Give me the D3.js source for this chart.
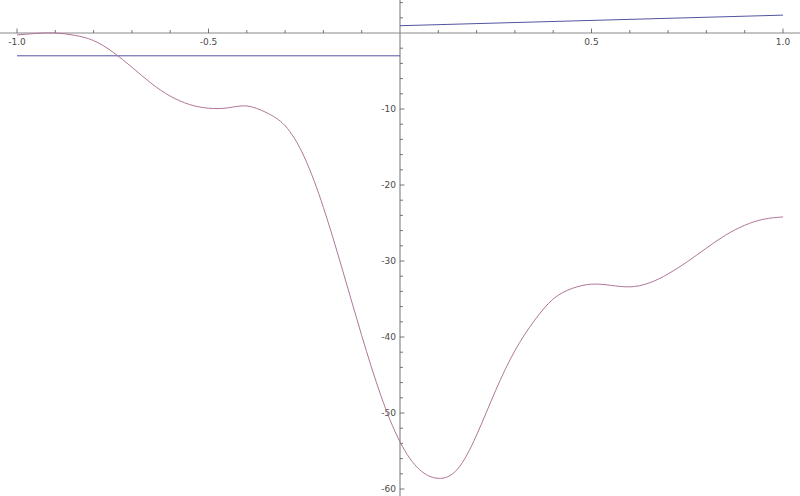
<!DOCTYPE html>
<html><head><meta charset="utf-8">
<script src="https://cdn.jsdelivr.net/npm/d3@7"></script>
<style>body{margin:0;background:#fff}svg{display:block}text{font-family:"DejaVu Sans",sans-serif;font-size:9px;fill:#4a4a4a}</style>
</head><body>
<script>
// pink curve samples (x, y)
const pinkX = [-1,-0.95,-0.9,-0.85,-0.8,-0.75,-0.7,-0.65,-0.6,-0.55,-0.5,-0.45,-0.4,-0.35,-0.3,-0.25,-0.2,-0.15,-0.1,-0.05,0,0.05,0.1,0.15,0.2,0.25,0.3,0.35,0.4,0.45,0.5,0.55,0.6,0.65,0.7,0.75,0.8,0.85,0.9,0.95,1];
const pinkY = [-0.25,-0.05,0.0,-0.3,-1.0,-2.5,-4.5,-6.6,-8.3,-9.4,-9.9,-9.85,-9.6,-10.45,-12.2,-16.3,-22.95,-31.2,-39.8,-47.7,-53.8,-57.4,-58.6,-57.4,-52.9,-47.0,-41.8,-37.9,-35.0,-33.6,-33.05,-33.2,-33.4,-32.9,-31.7,-30.1,-28.3,-26.6,-25.3,-24.5,-24.2];
// blue piecewise line segments
const blueLeftX = [-1, 0];
const blueLeftY = [-3.0, -3.0];
const blueRightX = [0, 1];
const blueRightY = [0.96, 2.35];
const xMajor = [-1, -0.5, 0.5, 1];
const xMajorLabels = ["-1.0", "-0.5", "0.5", "1.0"];
const yMajor = [-10, -20, -30, -40, -50, -60];
const yMajorLabels = ["-10", "-20", "-30", "-40", "-50", "-60"];

const W = 800, H = 496;
const x = d3.scaleLinear().domain([-1, 1]).range([17, 783]);
const y = d3.scaleLinear().domain([0, -60]).range([33, 489]);

const svg = d3.select("body").append("svg").attr("width", W).attr("height", H);

// axes
const axisColor = "#8a8a8a";
svg.append("line").attr("x1", 0).attr("x2", 800).attr("y1", y(0)).attr("y2", y(0))
  .attr("stroke", axisColor).attr("stroke-width", 1.2);
svg.append("line").attr("x1", x(0)).attr("x2", x(0)).attr("y1", 0).attr("y2", H)
  .attr("stroke", axisColor).attr("stroke-width", 1.2);

// x ticks (minor every 0.1, upward)
const xMinor = d3.range(-10, 11).map(i => i / 10).filter(v => Math.abs(v) > 1e-9);
svg.selectAll(".xt").data(xMinor).enter().append("line")
  .attr("x1", d => x(d)).attr("x2", d => x(d))
  .attr("y1", y(0)).attr("y2", d => y(0) - (xMajor.some(m => Math.abs(m - d) < 1e-9) ? 4.5 : 3))
  .attr("stroke", "#555").attr("stroke-width", 0.8);
svg.selectAll(".xl").data(xMajor).enter().append("text")
  .attr("x", (d) => x(d)).attr("y", y(0) + 12).attr("text-anchor", "middle")
  .text((d, i) => xMajorLabels[i]);

// y ticks (minor every 2, rightward)
const yMinor = d3.range(-30, 3).map(i => i * 2).filter(v => v !== 0);
svg.selectAll(".yt").data(yMinor).enter().append("line")
  .attr("x1", x(0)).attr("x2", d => x(0) + (d % 10 === 0 ? 4.5 : 3))
  .attr("y1", d => y(d)).attr("y2", d => y(d))
  .attr("stroke", "#555").attr("stroke-width", 0.8);
svg.selectAll(".yl").data(yMajor).enter().append("text")
  .attr("x", x(0) - 4).attr("y", d => y(d) + 3).attr("text-anchor", "end")
  .text((d, i) => yMajorLabels[i]);

// lines
const line = d3.line().x(d => x(d[0])).y(d => y(d[1]));
const smooth = d3.line().x(d => x(d[0])).y(d => y(d[1])).curve(d3.curveNatural);

svg.append("path").attr("d", line(blueLeftX.map((v, i) => [v, blueLeftY[i]])))
  .attr("fill", "none").attr("stroke", "#5353a0").attr("stroke-width", 1);
svg.append("path").attr("d", line(blueRightX.map((v, i) => [v, blueRightY[i]])))
  .attr("fill", "none").attr("stroke", "#5353a0").attr("stroke-width", 1);
svg.append("path").attr("d", smooth(pinkX.map((v, i) => [v, pinkY[i]])))
  .attr("fill", "none").attr("stroke", "#b0769a").attr("stroke-width", 1);
</script>
</body></html>
